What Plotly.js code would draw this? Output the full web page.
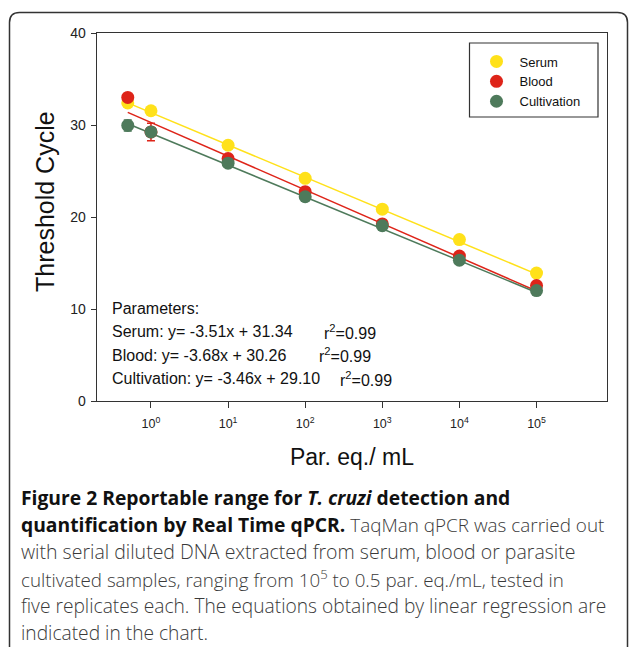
<!DOCTYPE html>
<html>
<head>
<meta charset="utf-8">
<script src="https://cdn.plot.ly/plotly-3.0.1.min.js"></script>
<style>html,body{margin:0;padding:0;background:#fff;}#chart{width:629px;height:647px;}</style>
</head>
<body>
<div id="chart"></div>
<script>
// ---- data ----
const parEq = [0.5, 1, 10, 100, 1000, 10000, 100000];
const serum = [32.4, 31.55, 27.8, 24.2, 20.85, 17.55, 13.9];
const blood = [33.0, 29.25, 26.35, 22.75, 19.25, 15.75, 12.55];
const cultivation = [29.95, 29.25, 25.85, 22.2, 19.05, 15.3, 12.0];
const serumErr = [0.3, 0.3, 0.2, 0.2, 0.2, 0.2, 0.2];
const bloodErr = [0.3, 0.95, 0.3, 0.2, 0.2, 0.2, 0.2];
const cultivationErr = [0.6, 0.4, 0.2, 0.2, 0.2, 0.2, 0.2];
// regression line end points
const fitX = [0.5, 100000];
const serumFit = [32.40, 13.79];
const bloodFit = [31.37, 11.96];
const cultivationFit = [30.14, 11.80];
const xTickVals = [1, 10, 100, 1000, 10000, 100000];
const xTickText = ['10<sup>0</sup>', '10<sup>1</sup>', '10<sup>2</sup>', '10<sup>3</sup>', '10<sup>4</sup>', '10<sup>5</sup>'];
const yTickVals = [0, 10, 20, 30, 40];
const seriesNames = ['Serum', 'Blood', 'Cultivation'];
const paramLines = ['Serum: y= -3.51x + 31.34', 'Blood: y= -3.68x + 30.26', 'Cultivation: y= -3.46x + 29.10'];
const r2Text = ['r<sup>2</sup>=0.99', 'r<sup>2</sup>=0.99', 'r<sup>2</sup>=0.99'];
const LIGHT = '<span style="font-weight:300;font-size:18.9px;fill:#3a3a3a">';
const captionLines = [
  '<b>Figure 2 Reportable range for <i>T. cruzi</i> detection and</b>',
  '<b>quantification by Real Time qPCR.</b> ' + LIGHT + 'TaqMan qPCR was carried out</span>',
  'with serial diluted DNA extracted from serum, blood or parasite',
  'cultivated samples, ranging from 10<sup>5</sup> to 0.5 par. eq./mL, tested in',
  'five replicates each. The equations obtained by linear regression are',
  'indicated in the chart.'
];

// ---- styling / layout ----
const colors = ['#FFE11A', '#DE2419', '#4E7A5B'];
const W = 629, H = 647, L = 97, R = 607, T = 33, B = 401;
const px = x => (x - L) / (R - L);
const py = y => (B - y) / (B - T);

const traces = [];
[serumFit, bloodFit, cultivationFit].forEach((f, i) => {
  traces.push({x: fitX, y: f, mode: 'lines', line: {color: colors[i], width: 1.5}, showlegend: false, hoverinfo: 'skip'});
});
[serum, blood, cultivation].forEach((s, i) => {
  const err = [serumErr, bloodErr, cultivationErr][i];
  traces.push({
    x: parEq, y: s, name: seriesNames[i], mode: 'markers',
    marker: {color: colors[i], size: 13},
    error_y: {type: 'data', array: err, visible: true, color: colors[i], thickness: 1.5, width: 4}
  });
});

const annotations = [];
annotations.push({xref: 'paper', yref: 'paper', x: px(110), y: py(308), xanchor: 'left', yanchor: 'middle', text: 'Parameters:', showarrow: false, font: {size: 16, color: '#111'}});
const eqY = [331.5, 355, 378.5];
const r2X = [322, 316.5, 338];
paramLines.forEach((t, i) => {
  annotations.push({xref: 'paper', yref: 'paper', x: px(110), y: py(eqY[i]), xanchor: 'left', yanchor: 'middle', text: t, showarrow: false, font: {size: 16, color: '#111'}});
  annotations.push({xref: 'paper', yref: 'paper', x: px(r2X[i]), y: py(eqY[i]), xanchor: 'left', yanchor: 'middle', text: r2Text[i], showarrow: false, font: {size: 16, color: '#111'}});
});
// y axis title placed as rotated annotation (off-centre like the reference)
annotations.push({xref: 'paper', yref: 'paper', x: px(45), y: py(202), xanchor: 'center', yanchor: 'middle', textangle: -90,
  text: 'Threshold Cycle', showarrow: false, font: {size: 25, color: '#111'}});
const capY = [497, 524, 551, 578, 605, 632];
const capSize = [19.3, 19.3, 19.5, 18.75, 19.2, 19.2];
captionLines.forEach((t, i) => {
  annotations.push({xref: 'paper', yref: 'paper', x: px(19), y: py(capY[i]), xanchor: 'left', yanchor: 'middle', text: t, showarrow: false, align: 'left',
    font: {family: 'Open Sans, sans-serif', size: capSize[i], weight: i < 2 ? 'normal' : 300, color: i < 2 ? '#111' : '#3a3a3a'}});
});

// outer rounded frame
const fx = [9.5, 627.5], fy = [12.5, 650], r = 10;
const path = 'M ' + px(fx[0]) + ' ' + py(fy[1]) +
  ' L ' + px(fx[0]) + ' ' + py(fy[0] + r) +
  ' Q ' + px(fx[0]) + ' ' + py(fy[0]) + ' ' + px(fx[0] + r) + ' ' + py(fy[0]) +
  ' L ' + px(fx[1] - r) + ' ' + py(fy[0]) +
  ' Q ' + px(fx[1]) + ' ' + py(fy[0]) + ' ' + px(fx[1]) + ' ' + py(fy[0] + r) +
  ' L ' + px(fx[1]) + ' ' + py(fy[1]);

const layout = {
  width: W, height: H,
  margin: {l: L, r: W - R, t: T, b: H - B, pad: 0},
  paper_bgcolor: '#fff', plot_bgcolor: '#fff',
  font: {family: 'Liberation Sans, Arial, sans-serif', color: '#222'},
  showlegend: true,
  legend: {x: px(473.5), y: py(46.5), xanchor: 'left', yanchor: 'top', borderwidth: 0, bgcolor: 'rgba(0,0,0,0)',
    font: {size: 13, color: '#111'}, itemwidth: 36, tracegroupgap: 0},
  xaxis: {
    type: 'log', range: [-0.70, 5.914], tickvals: xTickVals, ticktext: xTickText,
    ticks: 'outside', ticklen: 6, tickcolor: '#333', tickwidth: 1,
    showline: true, linecolor: '#333', linewidth: 1.3, mirror: true,
    showgrid: false, zeroline: false, tickfont: {size: 12.5, color: '#222'}, ticklabelstandoff: 5,
    title: {text: 'Par. eq./ mL', font: {size: 23, color: '#111'}, standoff: 18}, automargin: false
  },
  yaxis: {
    range: [0, 40], tickvals: yTickVals,
    ticks: 'outside', ticklen: 5, tickcolor: '#333', tickwidth: 1,
    showline: true, linecolor: '#333', linewidth: 1.3, mirror: true,
    showgrid: false, zeroline: false, tickfont: {size: 14, color: '#222'}, ticklabelstandoff: 2,
    automargin: false
  },
  annotations: annotations,
  shapes: [
    {type: 'path', xref: 'paper', yref: 'paper', path: path, line: {color: '#333', width: 1.5}},
    {type: 'rect', xref: 'paper', yref: 'paper', x0: px(469.5), x1: px(598), y0: py(43), y1: py(117), line: {color: '#333', width: 1.2}, fillcolor: 'rgba(0,0,0,0)'}
  ]
};

Plotly.newPlot('chart', traces, layout, {displayModeBar: false, staticPlot: true});
</script>
</body>
</html>
